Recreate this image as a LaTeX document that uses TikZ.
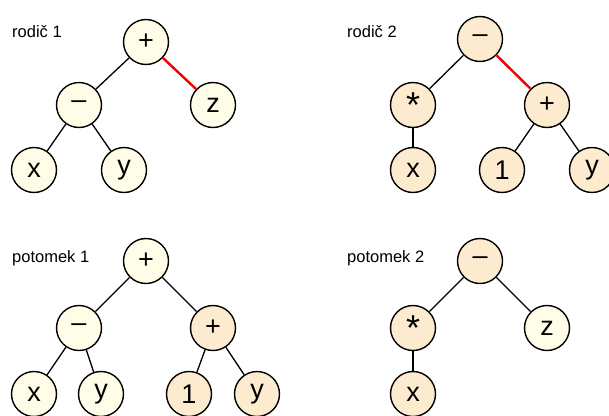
\documentclass[tikz,border=0pt]{standalone}
\usepackage{fontspec}
\setmainfont{Liberation Sans}
\usepackage{tikz}

\definecolor{lightyellow}{HTML}{FFFDE8}
\definecolor{lightorange}{HTML}{FDEBD0}
\definecolor{crossred}{HTML}{F00000}

% a bigger asterisk, set near the middle of the circle
\newcommand{\opstar}{\raisebox{-0.42em}{\fontsize{36}{36}\selectfont *}}

\tikzset{
  gene/.style={shape=circle, draw=black, line width=1.4pt, minimum size=45pt,
    inner sep=0pt, font=\fontsize{27}{27}\selectfont},
  genea/.style={gene, fill=lightyellow},
  geneb/.style={gene, fill=lightorange},
  treelabel/.style={anchor=base west, inner sep=0pt, font=\fontsize{16.5}{17}\selectfont},
  branch/.style={draw=black, line width=1.3pt},
  cut/.style={draw=crossred, line width=2.4pt}
}

\begin{document}
\begin{tikzpicture}[x=1pt, y=-1pt]
\useasboundingbox (0,0) rectangle (609,415);

% rodic 1
\node[treelabel](L1) at (12,37.5) {rodič 1};
\node[genea](A) at (146,42) {+};
\node[genea](B) at (79,105) {–};
\node[genea](C) at (213,105) {z};
\node[genea](D) at (34,170) {x};
\node[genea](E) at (124,170) {y};

\path [branch] (A) edge (B);
\path [cut] (A) edge (C);
\path [branch] (B) edge (D);
\path [branch] (B) edge (E);

% rodic 2
\node[treelabel](L2) at (347,37.5) {rodič 2};
\node[geneb](F) at (480,39) {–};
\node[geneb](G) at (413,105) {\opstar};
\node[geneb](H) at (547,105) {+};
\node[geneb](I) at (413,170) {x};
\node[geneb](J) at (502,170) {1};
\node[geneb](K) at (592,170) {y};

\path [branch] (F) edge (G);
\path [cut] (F) edge (H);
\path [branch] (G) edge (I);
\path [branch] (H) edge (J);
\path [branch] (H) edge (K);

% potomek 1
\node[treelabel](L3) at (12,262) {potomek 1};
\node[genea](M) at (146,261) {+};
\node[genea](N) at (79,328) {–};
\node[geneb](O) at (213,328) {+};
\node[genea](P) at (34,394) {x};
\node[genea](Q) at (101,394) {y};
\node[geneb](R) at (189,394) {1};
\node[geneb](S) at (257,394) {y};

\path [branch] (M) edge (N);
\path [branch] (M) edge (O);
\path [branch] (N) edge (P);
\path [branch] (N) edge (Q);
\path [branch] (O) edge (R);
\path [branch] (O) edge (S);

% potomek 2
\node[treelabel](L4) at (347,262) {potomek 2};
\node[geneb](T) at (480,261) {–};
\node[geneb](U) at (413,328) {\opstar};
\node[genea](V) at (547,328) {z};
\node[geneb](W) at (413,394) {x};

\path [branch] (T) edge (U);
\path [branch] (T) edge (V);
\path [branch] (U) edge (W);
\end{tikzpicture}
\end{document}
